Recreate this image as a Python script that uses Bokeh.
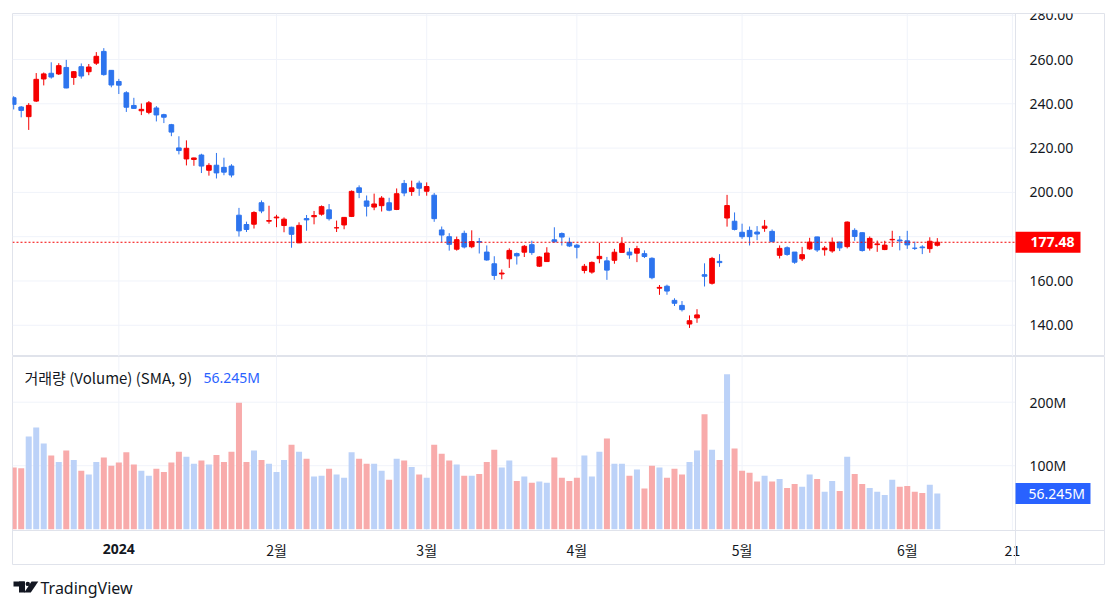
from bokeh.plotting import figure
from bokeh.layouts import column
from bokeh.models import (Range1d, FixedTicker, Label, BoxAnnotation,
                          ColumnDataSource, NumeralTickFormatter)
from bokeh.core.properties import value
from bokeh.embed import file_html
from bokeh.resources import INLINE

# ---------------- data (daily candles, TSLA-like) ----------------
dates = ["2023-12-11", "2023-12-12", "2023-12-13", "2023-12-14", "2023-12-15", "2023-12-18",
         "2023-12-19", "2023-12-20", "2023-12-21", "2023-12-22", "2023-12-26", "2023-12-27",
         "2023-12-28", "2023-12-29",
         "2024-01-02", "2024-01-03", "2024-01-04", "2024-01-05", "2024-01-08", "2024-01-09",
         "2024-01-10", "2024-01-11", "2024-01-12", "2024-01-16", "2024-01-17", "2024-01-18",
         "2024-01-19", "2024-01-22", "2024-01-23", "2024-01-24", "2024-01-25", "2024-01-26",
         "2024-01-29", "2024-01-30", "2024-01-31",
         "2024-02-01", "2024-02-02", "2024-02-05", "2024-02-06", "2024-02-07", "2024-02-08",
         "2024-02-09", "2024-02-12", "2024-02-13", "2024-02-14", "2024-02-15", "2024-02-16",
         "2024-02-20", "2024-02-21", "2024-02-22", "2024-02-23", "2024-02-26", "2024-02-27",
         "2024-02-28", "2024-02-29",
         "2024-03-01", "2024-03-04", "2024-03-05", "2024-03-06", "2024-03-07", "2024-03-08",
         "2024-03-11", "2024-03-12", "2024-03-13", "2024-03-14", "2024-03-15", "2024-03-18",
         "2024-03-19", "2024-03-20", "2024-03-21", "2024-03-22", "2024-03-25", "2024-03-26",
         "2024-03-27", "2024-03-28",
         "2024-04-01", "2024-04-02", "2024-04-03", "2024-04-04", "2024-04-05", "2024-04-08",
         "2024-04-09", "2024-04-10", "2024-04-11", "2024-04-12", "2024-04-15", "2024-04-16",
         "2024-04-17", "2024-04-18", "2024-04-19", "2024-04-22", "2024-04-23", "2024-04-24",
         "2024-04-25", "2024-04-26", "2024-04-29", "2024-04-30",
         "2024-05-01", "2024-05-02", "2024-05-03", "2024-05-06", "2024-05-07", "2024-05-08",
         "2024-05-09", "2024-05-10", "2024-05-13", "2024-05-14", "2024-05-15", "2024-05-16",
         "2024-05-17", "2024-05-20", "2024-05-21", "2024-05-22", "2024-05-23", "2024-05-24",
         "2024-05-28", "2024-05-29", "2024-05-30", "2024-05-31",
         "2024-06-03", "2024-06-04", "2024-06-05", "2024-06-06", "2024-06-07"]

opens = [242.74, 238.55, 234.19, 241.22, 251.21, 253.78, 253.48, 256.41, 251.90, 256.76, 254.49, 258.35,
         263.66, 255.10,
         250.08, 244.98, 239.25, 236.86, 236.14, 238.11, 235.10, 230.57, 220.08, 215.10, 214.86, 216.88,
         209.99, 212.26, 211.30, 211.88, 189.70, 185.50, 185.63, 195.33, 187.00,
         188.50, 185.04, 184.26, 177.21, 188.18, 189.00, 190.18, 192.11, 183.99, 185.30, 189.16, 202.06,
         196.13, 193.36, 194.00, 195.31, 192.29, 204.04, 200.42, 204.18,
         200.52, 198.73, 183.05, 179.99, 174.35, 181.50, 175.45, 177.77, 173.05, 167.77, 163.16, 170.02,
         172.36, 173.00, 176.39, 166.69, 168.76, 178.58, 181.41, 177.45,
         176.17, 164.75, 164.02, 170.07, 169.08, 169.34, 172.91, 173.04, 172.55, 172.34, 170.24, 156.74,
         157.64, 151.25, 148.97, 140.56, 143.33, 162.84, 158.96, 168.85, 188.42, 186.98,
         182.00, 182.86, 182.10, 183.80, 182.40, 171.59, 175.01, 173.05, 170.00, 174.50, 179.90, 174.10,
         173.55, 177.56, 175.51, 182.85, 181.80, 174.84, 176.40, 174.19, 178.58, 178.50,
         178.13, 174.78, 175.35, 174.60, 176.13]

highs = [243.44, 238.99, 240.30, 253.88, 254.13, 258.74, 258.34, 259.84, 254.80, 258.22, 257.97, 263.34,
         265.13, 255.19,
         251.25, 245.68, 242.70, 240.12, 241.25, 238.96, 235.50, 230.93, 225.34, 223.49, 215.67, 217.45,
         213.19, 217.80, 215.65, 212.73, 193.00, 186.78, 191.48, 196.36, 193.97,
         189.88, 188.69, 184.49, 186.49, 189.79, 191.62, 194.12, 194.73, 187.26, 188.89, 200.88, 203.17,
         198.60, 199.44, 198.32, 197.57, 201.78, 205.60, 205.30, 205.28,
         204.52, 199.75, 184.59, 181.58, 180.04, 182.73, 182.87, 179.43, 176.05, 171.17, 165.18, 174.72,
         172.82, 176.25, 178.18, 171.20, 175.24, 184.25, 181.91, 179.57,
         176.75, 167.69, 168.82, 177.19, 170.86, 174.50, 179.78, 174.93, 175.88, 173.81, 170.69, 158.19,
         158.33, 152.20, 150.94, 144.44, 147.26, 167.97, 170.88, 172.12, 198.87, 190.95,
         185.86, 184.60, 184.78, 187.56, 183.26, 176.06, 175.62, 173.06, 175.40, 179.49, 180.00, 175.79,
         179.63, 177.75, 186.88, 183.80, 181.90, 180.08, 178.25, 178.15, 182.67, 180.32,
         182.64, 177.76, 176.15, 179.73, 179.35]

lows = [237.45, 233.87, 228.20, 240.79, 248.30, 251.36, 253.01, 247.00, 248.55, 251.37, 252.91, 257.52,
        252.71, 247.43,
        244.41, 236.32, 237.73, 234.90, 235.30, 232.04, 231.29, 225.37, 217.15, 212.18, 212.01, 208.74,
        207.56, 206.27, 207.75, 206.77, 180.06, 182.10, 183.67, 190.61, 185.85,
        184.28, 182.00, 175.01, 177.11, 182.68, 185.58, 189.48, 187.28, 182.11, 183.35, 188.86, 197.40,
        189.13, 191.95, 191.36, 191.50, 192.00, 198.26, 198.44, 198.45,
        198.50, 186.72, 177.57, 173.70, 173.70, 174.70, 174.80, 172.41, 169.15, 160.51, 160.76, 165.90,
        167.42, 170.82, 171.80, 166.30, 168.73, 177.38, 176.00, 175.30,
        170.21, 163.43, 163.28, 168.01, 160.51, 167.79, 172.91, 170.01, 168.51, 170.36, 160.79, 153.75,
        153.78, 148.70, 146.22, 138.80, 141.11, 157.51, 158.36, 166.37, 184.54, 182.84,
        179.01, 176.02, 178.42, 182.20, 177.40, 170.15, 171.37, 167.75, 169.00, 174.07, 173.11, 171.43,
        172.75, 173.52, 174.71, 178.12, 173.26, 173.73, 173.16, 173.93, 175.38, 173.82,
        174.49, 174.00, 172.13, 172.73, 175.58]

closes = [239.74, 237.01, 239.29, 251.05, 253.50, 252.08, 257.22, 247.14, 254.50, 252.54, 256.61, 261.44,
          253.18, 248.48,
          248.42, 238.45, 237.93, 237.49, 240.45, 234.96, 233.94, 227.22, 218.89, 219.91, 215.55, 211.88,
          212.19, 208.80, 209.14, 207.83, 182.63, 183.25, 190.93, 191.59, 187.29,
          188.86, 187.91, 181.06, 185.10, 187.58, 189.56, 193.57, 188.13, 184.02, 188.71, 200.45, 199.95,
          193.76, 194.77, 197.41, 191.97, 199.40, 199.73, 202.04, 201.88,
          202.64, 188.14, 180.74, 176.54, 178.65, 175.34, 177.77, 177.54, 169.48, 162.50, 163.57, 173.80,
          171.32, 175.66, 172.82, 170.83, 172.63, 177.67, 179.83, 175.79,
          175.22, 166.63, 168.38, 171.11, 164.90, 172.98, 176.88, 171.76, 174.60, 171.05, 161.48, 157.11,
          155.45, 149.93, 147.05, 142.05, 144.68, 162.13, 170.18, 168.29, 194.05, 183.28,
          179.99, 180.01, 181.19, 184.76, 177.81, 174.72, 171.97, 168.47, 171.89, 177.55, 173.99, 174.84,
          177.46, 174.95, 186.60, 180.11, 173.74, 179.24, 176.75, 176.19, 178.79, 178.08,
          176.29, 174.77, 175.00, 177.94, 177.48]

volumes_m = [97, 96, 146, 160, 135, 116, 106, 124, 109, 92, 86, 106, 113, 100,
             105, 121, 102, 92, 84, 95, 90, 105, 122, 114, 103, 108, 102, 117, 106, 122, 199, 106,
             124, 109, 103,
             90, 109, 133, 122, 111, 83, 84, 95, 86, 81, 121, 111, 103, 103, 92, 78, 111, 108, 98, 86,
             81, 133, 119, 108, 102, 84, 84, 87, 106, 125, 97, 108, 76, 83, 73, 75, 73, 113, 81, 76,
             81, 116, 83, 122, 143, 103, 103, 84, 94, 64, 100, 97, 81, 95, 86, 106, 124, 181, 125, 109,
             244, 127,
             92, 89, 75, 84, 75, 79, 65, 71, 67, 86, 79, 59, 76, 60, 114, 87, 71, 65, 59, 54, 78, 67,
             68, 59, 57, 70, 56.245]

tick_positions = [0, 21, 41, 61, 83, 105, 119]       # trading-day index of each time label
tick_labels = ["2024", "2월", "3월", "4월", "5월", "6월", "21"]
price_ticks = [140, 160, 180, 200, 220, 240, 260, 280]
volume_ticks = [100, 200]
volume_tick_labels = ["100M", "200M"]
last_price_text = "177.48"
last_volume_text = "56.245M"
legend_title = "거래량 (Volume) (SMA, 9)"
brand_text = "TradingView"

# ---------------- styling ----------------
UP = "#f50000"
DOWN = "#2d74ee"
VOL_UP = "#bcd2f8"     # volume of up candles (as in the reference)
VOL_DOWN = "#f8abab"
GRID = "#f0f3fa"
BORDER = "#e0e3eb"
TEXT = "#131722"
FONT = "Noto Sans"
KFONT = "Noto Sans CJK KR"

first_index = -(dates.index("2024-01-02"))
xs = [first_index + i for i in range(len(dates))]
up = [c >= o for o, c in zip(opens, closes)]
src = ColumnDataSource(dict(
    x=xs, open=opens, high=highs, low=lows, close=closes,
    top=[max(o, c) for o, c in zip(opens, closes)],
    bottom=[min(o, c) for o, c in zip(opens, closes)],
    color=[UP if u else DOWN for u in up],
    vol=volumes_m,
    vcolor=[VOL_UP if u else VOL_DOWN for u in up],
))

# x: frame spans page x 12 .. 1105 ; plot area ends at X1 (page 1015), price scale beyond
X0, X1, XR = -14.16, 119.42, 131.40
PX = 7.509                              # pixels per trading day
P0, P1 = 125.9, 280.77                  # page y 356 .. 13
PPU = 2.215                             # pixels per price unit
V0 = -2.05                              # page y 530 (time axis line)
VB, VT = -57.17, 271.97                 # page y 565 .. 356
VPU = 0.635                             # pixels per million shares


def xpix(px):      # page x -> index units (for tag placement)
    return X0 + (px - 12) / PX


common = dict(toolbar_location=None, output_backend="svg", width=1105,
              background_fill_color="white", border_fill_color="white",
              min_border_left=12, min_border_right=0)


def style_axis(ax, font):
    ax.major_tick_line_color = None
    ax.minor_tick_line_color = None
    ax.major_tick_out = 0
    ax.major_tick_in = 0
    ax.axis_line_color = BORDER
    ax.major_label_text_color = TEXT
    ax.major_label_text_font = font
    ax.major_label_text_font_size = "14px"


# ---------------- price pane ----------------
p = figure(height=356, x_range=Range1d(X0, XR), y_range=Range1d(P0, P1),
           y_axis_location="right", x_axis_location=None, outline_line_color=BORDER,
           min_border_top=13, min_border_bottom=0, **common)
p.xgrid.visible = False
p.ygrid.visible = False
# grid lines limited to the plotting area
p.segment(x0=tick_positions, y0=[P0] * len(tick_positions), x1=tick_positions,
          y1=[P1] * len(tick_positions), line_color=GRID, line_width=1, level="underlay")
p.segment(x0=[X0] * len(price_ticks), y0=price_ticks, x1=[X1] * len(price_ticks),
          y1=price_ticks, line_color=GRID, line_width=1, level="underlay")

p.segment(x0="x", y0="low", x1="x", y1="high", line_color="color", line_width=1, source=src)
p.vbar(x="x", width=0.62, top="top", bottom="bottom", fill_color="color",
       line_color="color", line_width=1, source=src)

p.segment(x0=[X0], y0=[closes[-1]], x1=[X1], y1=[closes[-1]], line_color=UP,
          line_dash="2 2", line_width=1)

p.yaxis.fixed_location = X1
p.yaxis.ticker = FixedTicker(ticks=price_ticks)
p.yaxis.formatter = NumeralTickFormatter(format="0.00")
style_axis(p.yaxis, FONT)
p.yaxis.major_label_standoff = 14

# last-price tag on the price scale
half = 10.5 / PPU
p.add_layout(BoxAnnotation(left=X1, right=xpix(1080), bottom=closes[-1] - half,
                           top=closes[-1] + half, fill_color="#ff0000", fill_alpha=1,
                           line_color=None))
p.add_layout(Label(x=xpix(1030), y=closes[-1], text=last_price_text, text_color="white",
                   text_font=FONT, text_font_size="14px", text_font_style="bold",
                   text_align="left", text_baseline="middle"))

# ---------------- volume pane ----------------
v = figure(height=209, x_range=p.x_range, y_range=Range1d(VB, VT),
           y_axis_location="right", x_axis_location="below", outline_line_color=BORDER,
           min_border_top=0, min_border_bottom=0, **common)
v.xgrid.visible = False
v.ygrid.visible = False
v.segment(x0=tick_positions, y0=[V0] * len(tick_positions), x1=tick_positions,
          y1=[VT] * len(tick_positions), line_color=GRID, line_width=1, level="underlay")
v.segment(x0=[X0] * len(volume_ticks), y0=volume_ticks, x1=[X1] * len(volume_ticks),
          y1=volume_ticks, line_color=GRID, line_width=1, level="underlay")

v.vbar(x="x", width=0.8, top="vol", bottom=0, fill_color="vcolor", line_color=None, source=src)

v.yaxis.fixed_location = X1
v.yaxis.ticker = FixedTicker(ticks=volume_ticks)
v.yaxis.major_label_overrides = {t: s for t, s in zip(volume_ticks, volume_tick_labels)}
style_axis(v.yaxis, FONT)
v.yaxis.major_label_standoff = 14

v.xaxis.fixed_location = V0
v.xaxis.ticker = FixedTicker(ticks=tick_positions)
v.xaxis.major_label_overrides = {t: (s if t != 0 else "") for t, s in zip(tick_positions, tick_labels)}
style_axis(v.xaxis, KFONT)
v.xaxis.major_label_standoff = 10

v.add_layout(Label(x=0, y=-30.4, text=tick_labels[0], text_font=FONT, text_font_size="14px",
                   text_font_style="bold", text_color=TEXT, text_align="center",
                   text_baseline="middle"))

v.add_layout(Label(x=-12.56, y=238.9, text=legend_title, text_font=KFONT,
                   text_font_size="15px", text_color=TEXT, text_baseline="middle"))
v.add_layout(Label(x=11.28, y=238.9, text=last_volume_text, text_font=FONT,
                   text_font_size="14px", text_color="#2962ff", text_baseline="middle"))

# last-volume tag on the volume scale
vhalf = 10.6 / VPU
v.add_layout(BoxAnnotation(left=X1, right=xpix(1090), bottom=volumes_m[-1] - vhalf,
                           top=volumes_m[-1] + vhalf, fill_color="#2962ff", fill_alpha=1,
                           line_color=None))
v.add_layout(Label(x=xpix(1028), y=volumes_m[-1], text=last_volume_text, text_color="white",
                   text_font=FONT, text_font_size="14px",
                   text_align="left", text_baseline="middle"))

# ---------------- brand strip ----------------
b = figure(height=35, width=1105, x_range=Range1d(12, 1105), y_range=Range1d(0, 35),
           toolbar_location=None, output_backend="svg", x_axis_location=None,
           y_axis_location=None, outline_line_color=None, min_border=0, min_border_left=12,
           background_fill_color="white", border_fill_color="white")
b.xgrid.visible = False
b.ygrid.visible = False
b.quad(left=[13], right=[24], top=[19], bottom=[14], fill_color=TEXT, line_color=None)
b.quad(left=[18.5], right=[24.5], top=[19], bottom=[8], fill_color=TEXT, line_color=None)
b.circle(x=[27.3], y=[16.6], radius=2.2, fill_color=TEXT, line_color=None)
b.patch(x=[31, 37.8, 30.3, 23.8], y=[19, 19, 8, 8], fill_color=TEXT, line_color=None)
b.text(x=[40], y=[13], text=[brand_text], text_font=value(FONT), text_font_size="16px",
       text_color=TEXT, text_baseline="middle")

layout = column(p, v, b)
open("out.html", "w").write(file_html(layout, INLINE))
